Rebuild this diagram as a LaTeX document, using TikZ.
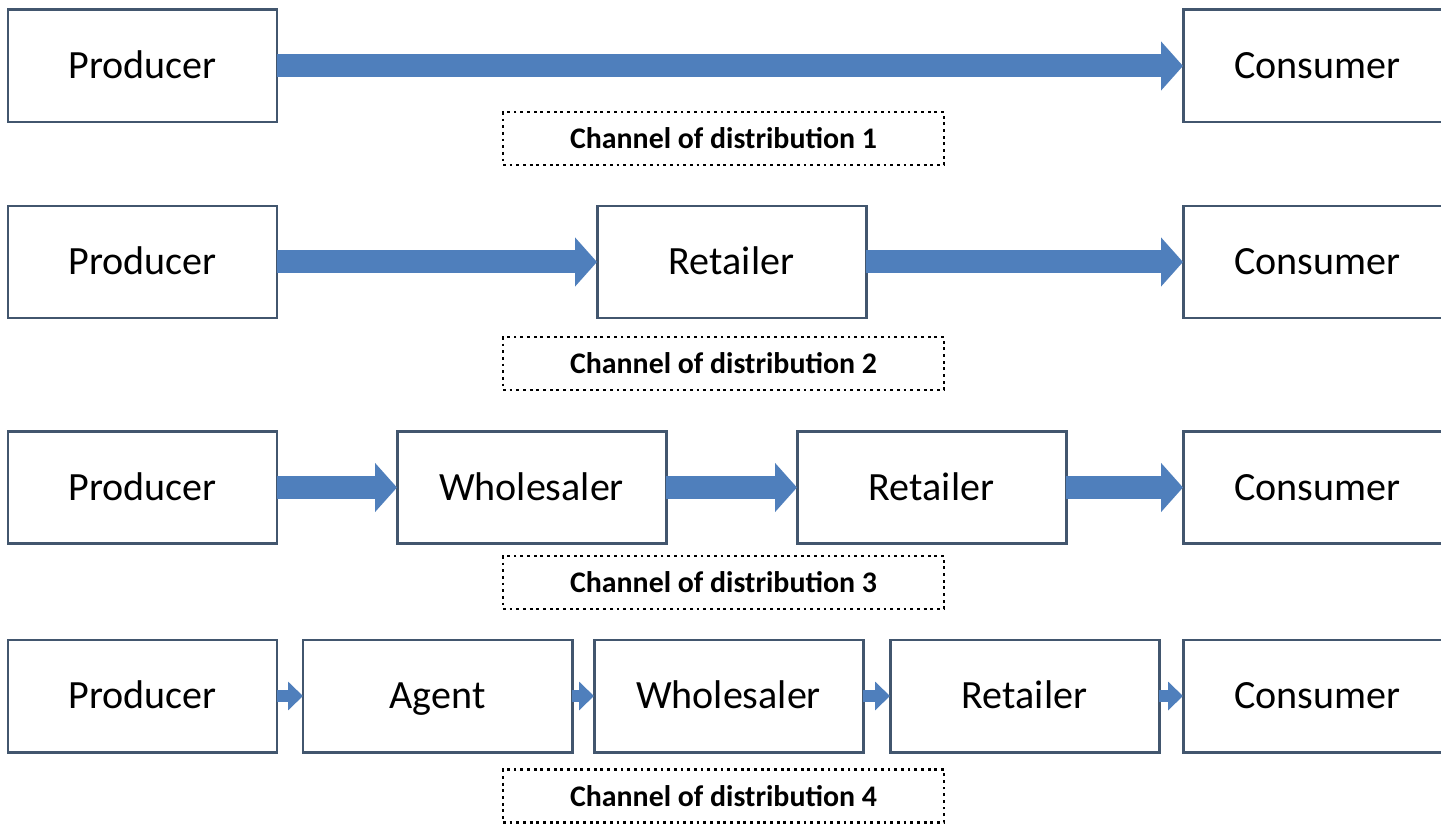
\documentclass[tikz,border=0pt]{standalone}
\usepackage{fontspec}
\setmainfont{Carlito}
\usetikzlibrary{positioning}
\usetikzlibrary{arrows.meta}
\definecolor{boxline}{HTML}{42566E}
\definecolor{flowblue}{HTML}{4F7FBC}

\begin{document}
\begin{tikzpicture}[
        box/.style={draw=boxline, line width=1.7pt, fill=white, minimum width=5.38cm, minimum height=2.24cm, inner sep=0pt, outer sep=0pt, text height=14.6pt, text depth=0pt, font=\fontsize{22.8}{27}\selectfont},
        chan/.style={draw=black, line width=1.6pt, dash pattern=on 1.6pt off 2.2pt, minimum width=8.82cm, minimum height=1.06cm, inner sep=0pt, font=\bfseries\fontsize{17}{20}\selectfont},
        flow/.style={draw=flowblue, line width=0.46cm, -{Triangle[length=0.44cm,width=0.96cm]}},
        flowsmall/.style={draw=flowblue, line width=0.24cm, -{Triangle[length=0.3cm,width=0.56cm]}}
    ]
        \useasboundingbox (0,0) rectangle (28.82,-16.58);
        \clip (0,0) rectangle (28.82,-16.58);
        %% channel 1
        \node[box] (p1) at (2.85,-1.32) {Producer};
        \node[box, right=18.12cm of p1] (c1) {Consumer};
        \draw[flow] (p1) -- (c1);
        \node[chan] (ch1) at (14.47,-2.77) {Channel of distribution 1};
        %% channel 2
        \node[box] (p2) at (2.85,-5.24) {Producer};
        \node[box, right=6.4cm of p2] (r2) {Retailer};
        \node[box, right=6.34cm of r2] (c2) {Consumer};
        \draw[flow] (p2) -- (r2);
        \draw[flow] (r2) -- (c2);
        \node[chan] (ch2) at (14.47,-7.27) {Channel of distribution 2};
        %% channel 3
        \node[box] (p3) at (2.85,-9.75) {Producer};
        \node[box, right=2.4cm of p3] (w3) {Wholesaler};
        \node[box, right=2.62cm of w3] (r3) {Retailer};
        \node[box, right=2.34cm of r3] (c3) {Consumer};
        \draw[flow] (p3) -- (w3);
        \draw[flow] (w3) -- (r3);
        \draw[flow] (r3) -- (c3);
        \node[chan] (ch3) at (14.47,-11.65) {Channel of distribution 3};
        %% channel 4
        \node[box] (p4) at (2.85,-13.92) {Producer};
        \node[box, right=0.52cm of p4] (a4) {Agent};
        \node[box, right=0.44cm of a4] (w4) {Wholesaler};
        \node[box, right=0.54cm of w4] (r4) {Retailer};
        \node[box, right=0.48cm of r4] (c4) {Consumer};
        \draw[flowsmall] (p4) -- (a4);
        \draw[flowsmall] (a4) -- (w4);
        \draw[flowsmall] (w4) -- (r4);
        \draw[flowsmall] (r4) -- (c4);
        \node[chan] (ch4) at (14.47,-15.92) {Channel of distribution 4};
\end{tikzpicture}
\end{document}
